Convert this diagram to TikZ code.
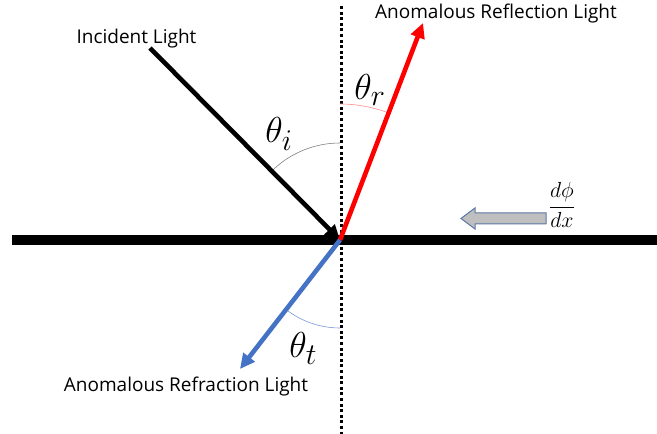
\documentclass[tikz,border=0pt]{standalone}
\usepackage{fontspec}
\setmainfont{Open Sans}
\usetikzlibrary{arrows.meta}
\definecolor{rayred}{RGB}{255,0,0}
\definecolor{rayblue}{RGB}{68,114,196}
\definecolor{arcred}{RGB}{255,140,140}
\definecolor{arcblue}{RGB}{120,150,215}
\definecolor{blockfill}{RGB}{191,191,191}
\definecolor{blockedge}{RGB}{90,120,165}
\tikzset{
  ray/.style={line width=4.6pt,-{Triangle[length=15pt,width=14pt]}},
  lbl/.style={font=\fontsize{19}{22}\selectfont,inner sep=0pt,anchor=base},
  ang/.style={font=\fontsize{24.88}{28}\selectfont,scale=1.45,inner sep=0pt,anchor=base west},
  anglearc/.style={line width=0.6pt}
}
\begin{document}
\begin{tikzpicture}[x=1pt,y=1pt]
\useasboundingbox (0,0) rectangle (657,434);
\coordinate (O) at (340,194);
\coordinate (I) at (150,386);
\coordinate (R) at (423,411);
\coordinate (T) at (240,65);
\coordinate (BL) at (12,194);
\coordinate (BR) at (657,194);
\coordinate (VT) at (341,428);
\coordinate (VB) at (341,0);
% surface
\draw[line width=10pt] (BL) -- (BR);
% normal
\draw[line width=3pt,dash pattern=on 3pt off 2.6pt] (VT) -- (VB);
% angle arcs
\draw[anglearc,gray] ([shift={(90:97)}]O) arc[start angle=90,end angle=134,radius=97];
\draw[anglearc,arcred] ([shift={(90:136)}]O) arc[start angle=90,end angle=69,radius=136];
\draw[anglearc,arcblue] ([shift={(270:88)}]O) arc[start angle=270,end angle=232,radius=88];
% rays
\draw[ray,black] (I) -- (O);
\draw[ray,rayred] (O) -- (R);
\draw[ray,rayblue] (O) -- (T);
% labels
\node[lbl] (li) at (136.5,390.5) {Incident Light};
\node[lbl] (lr) at (496,415.5) {Anomalous Reflection Light};
\node[lbl] (lt) at (186,42.5) {Anomalous Refraction Light};
\node[ang] (ti) at (265,291) {$\theta_i$};
\node[ang] (tr) at (354,334) {$\theta_r$};
\node[ang] (tt) at (289,76) {$\theta_t$};
% phase gradient
\draw[blockedge,fill=blockfill,line width=1pt]
  (546,221) -- (475,221) -- (475,226) -- (461,215.5) -- (475,205) -- (475,210) -- (546,210) -- cycle;
\node[font=\fontsize{20.74}{24}\selectfont,scale=1.05,inner sep=0pt] (dp) at (562,229) {$\displaystyle\frac{d\phi}{dx}$};
\end{tikzpicture}
\end{document}
